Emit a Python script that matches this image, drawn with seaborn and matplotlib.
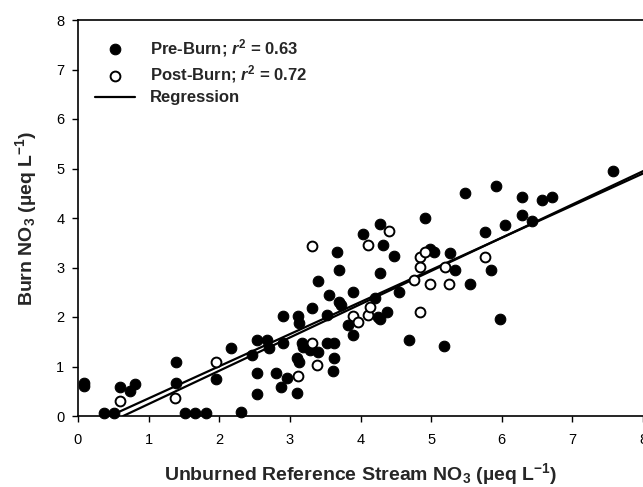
import numpy as np
import pandas as pd
import seaborn as sns
import matplotlib
matplotlib.use('Agg')
import matplotlib.pyplot as plt

# data (x = unburned reference NO3, y = burn NO3)
pre_x = [0.08, 0.08, 0.37, 0.51, 0.60, 0.74, 0.81, 1.39, 1.39, 1.52, 1.66, 1.81, 1.95, 2.17,
         2.31, 2.46, 2.53, 2.53, 2.53, 2.68, 2.70, 2.81, 2.88, 2.90, 2.90, 2.96, 3.11, 3.13,
         3.10, 3.10, 3.13, 3.17, 3.19, 3.32, 3.29, 3.40, 3.53, 3.62, 3.62, 3.61, 3.40, 3.55,
         3.53, 3.67, 3.69, 3.69, 3.72, 3.83, 3.90, 3.90, 4.04, 4.27, 4.32, 4.48, 4.27, 4.21,
         4.25, 4.37, 4.27, 4.55, 4.69, 4.91, 4.99, 5.04, 5.27, 5.34, 5.55, 5.85, 5.76, 6.05,
         6.28, 6.43, 5.48, 5.92, 6.28, 6.57, 6.71, 7.57, 5.98, 5.18]
pre_y = [0.60, 0.66, 0.07, 0.07, 0.58, 0.50, 0.65, 1.09, 0.66, 0.07, 0.07, 0.07, 0.74, 1.37,
         0.08, 1.23, 1.53, 0.87, 0.45, 1.53, 1.37, 0.87, 0.59, 2.02, 1.47, 0.76, 2.02, 1.88,
         0.46, 1.17, 1.10, 1.47, 1.40, 2.18, 1.33, 1.30, 1.47, 1.47, 1.17, 0.90, 2.73, 2.44,
         2.04, 3.32, 2.95, 2.31, 2.24, 1.84, 2.51, 1.64, 3.68, 3.88, 3.45, 3.23, 2.88, 2.38,
         2.01, 2.11, 1.95, 2.51, 1.54, 3.99, 3.37, 3.32, 3.30, 2.95, 2.66, 2.94, 3.72, 3.86,
         4.06, 3.94, 4.51, 4.65, 4.43, 4.36, 4.43, 4.94, 1.95, 1.41]

post_x = [0.59, 1.38, 1.96, 3.11, 3.32, 3.32, 3.39, 3.90, 3.97, 4.11, 4.11, 4.41, 4.14,
          4.76, 4.84, 4.84, 4.91, 4.98, 4.84, 5.20, 5.26, 5.76]
post_y = [0.30, 0.37, 1.10, 0.81, 3.43, 1.47, 1.03, 2.03, 1.89, 2.04, 3.45, 3.73, 2.21,
          2.75, 3.22, 3.02, 3.32, 2.67, 2.10, 3.02, 2.66, 3.22]

# regression lines (pre-burn, post-burn)
reg_slope = [0.649, 0.672]
reg_intercept = [-0.293, -0.43]
reg_start = [0.59, 0.64]
reg_end = 8.3

pre = pd.DataFrame({'x': pre_x, 'y': pre_y})
post = pd.DataFrame({'x': post_x, 'y': post_y})

sns.set_style('ticks')
plt.rcParams['font.family'] = ['Liberation Sans', 'DejaVu Sans']
plt.rcParams['mathtext.fontset'] = 'custom'
plt.rcParams['mathtext.rm'] = 'Liberation Sans:bold'
plt.rcParams['mathtext.bf'] = 'Liberation Sans:bold'
plt.rcParams['mathtext.it'] = 'Liberation Sans:italic:bold'

fig = plt.figure(figsize=(6.43, 4.87), dpi=100)
ax = fig.add_axes([78 / 643, 71 / 487, 565 / 643, 396 / 487])

# regression lines first so markers sit on top
for i in range(2):
    xs = np.array([reg_start[i], reg_end])
    ax.plot(xs, reg_intercept[i] + reg_slope[i] * xs, color='black', lw=1.6,
            label='Regression' if i == 0 else None, zorder=2)

sns.scatterplot(data=pre, x='x', y='y', ax=ax, color='black', edgecolor='black',
                s=58, linewidth=0.8, label=r'Pre-Burn; $r^2$ = 0.63', zorder=3, clip_on=False)
sns.scatterplot(data=post, x='x', y='y', ax=ax, color='white', edgecolor='black',
                s=50, linewidth=1.4, label=r'Post-Burn; $r^2$ = 0.72', zorder=4, clip_on=False)

ax.set_xlim(0, 8)
ax.set_ylim(0, 8)
ax.set_xticks(range(9))
ax.set_yticks(range(9))
ax.tick_params(direction='out', length=4.3, width=1, labelsize=10.5, colors='black')
ax.tick_params(axis='x', pad=8)
ax.tick_params(axis='y', pad=5.5)
for sp in ax.spines.values():
    sp.set_color('black')
    sp.set_linewidth(1.2)
ax.spines['right'].set_visible(False)

ax.set_xlabel('Unburned Reference Stream NO$_3$ (µeq L$^{-1}$)',
              fontsize=14, fontweight='bold', labelpad=10)
ax.set_ylabel('Burn NO$_3$ (µeq L$^{-1}$)', fontsize=14, fontweight='bold', labelpad=12)

# legend: markers first, then regression line
h, l = ax.get_legend_handles_labels()
order = [1, 2, 0]
leg = ax.legend([h[i] for i in order], [l[i] for i in order], loc='upper left',
                bbox_to_anchor=(0.03, 0.958), frameon=False, borderpad=0, borderaxespad=0,
                handlelength=2.4, handletextpad=0.9, labelspacing=0.3,
                prop={'weight': 'bold', 'size': 12})

fig.savefig('out.png', dpi=100)
